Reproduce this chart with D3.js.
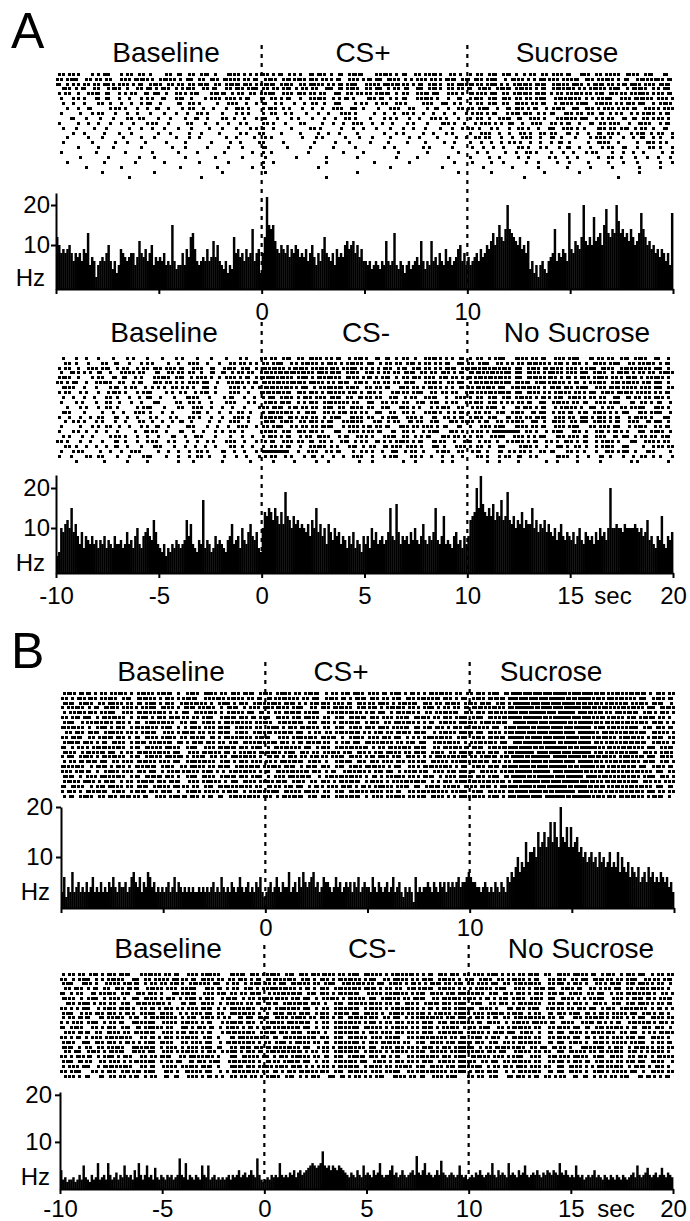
<!DOCTYPE html>
<html>
<head>
<meta charset="utf-8">
<script src="https://cdn.jsdelivr.net/npm/d3@7"></script>
<style>
  body { margin: 0; background: #fff; }
  text { font-family: "Liberation Sans", Arial, Helvetica, sans-serif; fill: #000; }
</style>
</head>
<body>
<script>
// ---- data ----
// PSTH firing rate (Hz), 0.1 s bins from -10 to +20 s (300 bins)
const hzA1 = [
  12,10,8,9,8,9,10,8,6,8, 7,8,6,9,8,13,5,7,6,2, 5,6,7,6,8,10,6,4,6,3,
  5,9,8,7,6,7,8,8,5,7, 11,8,7,9,6,8,10,5,7,6, 7,6,8,5,6,5,15,6,4,5,
  5,8,5,9,7,12,13,9,6,5, 6,7,6,9,6,7,11,7,10,6, 5,4,6,3,5,4,12,8,9,7,
  8,6,9,7,8,14,6,8,9,3, 8,12,22,15,14,15,11,9,8,10, 9,8,10,7,9,8,10,9,7,8,
  7,9,6,8,10,7,5,8,6,9, 12,8,7,6,8,5,9,7,8,7, 10,11,9,10,11,8,10,7,9,6,
  6,5,6,4,5,6,5,4,6,5, 11,6,5,6,13,5,4,6,5,3, 5,6,4,5,6,7,5,11,6,4,
  6,5,11,6,7,5,8,6,5,9, 6,7,5,6,7,9,10,6,8,5, 7,5,6,7,8,6,9,7,8,10,
  9,11,13,10,12,15,12,11,14,20, 14,13,12,11,10,12,9,10,8,11, 4,6,3,5,2,5,6,4,3,6,
  7,8,14,6,8,7,9,8,6,18, 9,8,11,10,9,12,20,11,10,12, 10,17,11,12,13,10,15,19,13,12,
  14,13,20,16,13,14,12,13,11,14, 12,10,11,13,18,14,12,10,11,9, 10,8,9,7,9,8,6,8,5,18
];
const hzA2 = [
  3,4,10,9,11,12,10,15,9,11, 8,6,9,5,8,7,6,8,6,7, 5,7,6,8,5,7,6,5,8,6,
  6,7,5,6,9,6,7,5,8,10, 6,5,8,9,10,8,7,12,9,6, 5,4,6,3,5,4,6,5,7,6,
  5,6,7,12,8,11,6,5,4,7, 6,17,5,7,6,4,5,8,6,7, 6,5,4,7,8,11,6,7,8,5,
  10,7,6,9,11,8,7,9,5,4, 10,14,13,15,14,12,15,13,11,14, 11,19,13,12,10,13,11,12,10,11,
  10,9,11,8,12,10,15,9,11,8, 10,6,11,9,7,10,8,9,6,8, 7,5,8,6,9,5,7,6,4,8,
  6,8,5,10,7,9,6,7,8,6, 7,9,15,8,7,16,9,6,8,7, 8,6,9,7,10,7,6,8,11,7,
  6,8,7,9,15,7,6,8,13,6, 7,6,5,8,9,6,7,5,8,6, 8,12,13,14,20,15,23,16,14,13,
  15,13,16,12,14,13,17,12,13,19, 12,11,13,10,12,11,14,10,12,11, 11,15,10,12,9,11,10,12,9,11,
  9,8,10,7,9,11,8,7,9,8, 7,9,6,8,10,7,6,9,8,7, 8,6,9,7,10,8,9,7,10,20,
  10,10,11,10,10,9,11,10,10,10, 10,11,10,9,10,8,9,12,7,8, 6,5,8,7,13,6,5,8,7,9
];
const hzB1 = [
  3,6,2,4,3,7,3,4,5,3, 4,3,5,3,4,6,3,4,3,5, 3,4,3,5,4,6,4,3,5,4,
  4,5,3,4,6,7,5,4,6,3, 5,4,7,6,4,5,3,4,3,4, 3,4,5,3,4,6,3,5,4,3,
  4,3,4,3,4,3,3,4,3,4, 3,4,3,4,5,3,4,3,6,4, 3,4,3,5,4,3,4,6,4,3,
  4,5,3,4,3,5,4,6,3,2, 3,4,5,3,4,6,4,3,5,4, 4,7,3,4,5,3,6,4,7,5,
  4,5,6,7,4,5,3,4,6,5, 5,4,3,4,6,4,5,3,4,5, 4,5,3,5,4,6,3,4,5,4,
  4,3,6,4,3,5,4,3,4,5, 3,4,6,3,4,5,3,2,4,3, 4,3,1,6,3,4,3,4,4,5,
  4,3,5,4,3,5,4,5,3,5, 4,5,4,5,6,4,5,5,6,7, 6,5,5,4,4,3,4,5,4,3,
  4,3,5,4,3,5,4,3,6,5, 7,6,8,10,7,9,8,13,9,11, 11,12,10,15,12,13,15,12,14,17,
  13,17,14,12,20,14,13,16,12,16, 12,13,14,11,12,10,11,9,10,11, 9,10,8,11,9,10,8,9,11,8,
  9,8,11,7,10,8,7,9,6,8, 7,6,8,5,6,7,5,8,6,7, 5,6,5,7,6,5,6,4,5,3
];
const hzB2 = [
  4,2,2.5,1.5,2,2,2.5,1.5,2,3, 2,5,2.5,2,1.5,3,2,2.5,5.5,2, 2.5,3,2,5.5,3,2,2.5,3.5,2,3,
  2.5,5,3,2.5,3,2,4,2.5,5.5,3, 2,3,5,2.5,3,2,4.5,2.5,2,3, 2.5,2,3,2.5,3,2,2.5,3,6.5,3,
  2.5,5.5,2,3,2.5,2,3,2.5,2,5, 3,2.5,5,2,2.5,3,2,2.5,2,2.5, 2,2.5,3,2,3,2.5,3,4,2.5,3,
  3.5,2.5,3,4,3,2.5,6.5,3,2,1.5, 2,2.5,2,3,2.5,3,2.5,5.5,3,2.5, 3,2.5,3.5,3,4,2.5,3.5,4,3,3.5,
  4,4.5,5,5.5,5,4.5,5,5.5,8,5, 4.5,5,4,5,4.5,4,5,4.5,4,3.5, 3,2.5,3.5,3,2.5,4,3,2.5,5,3,
  3.5,3,2.5,4,3,3.5,5.5,3,2.5,3, 3,4,5,3,3.5,2.5,3,4,3,2.5, 3,3.5,4,3,7,3.5,3,4,5.5,3,
  3.5,3,2.5,3,4,3,6,3.5,3,2.5, 3,3.5,3,2.5,3,5,3,2.5,3,2, 2.5,3,2.5,3.5,3,4,3,2.5,3,3.5,
  3,5.5,3,2.5,4,3,3.5,3,2.5,5.5, 3,3.5,3,2.5,4,3,3.5,5,3,2.5, 3,3.5,3,4,3,2.5,3.5,3,4,3.5,
  3,4,3.5,3,5.5,3.5,3,4,3,2.5, 3,2.5,5,3,2.5,3,2,2.5,3,2.5, 3,4,2.5,3,2.5,2,3,2.5,2,3,
  2.5,2,3,2.5,2,3,2.5,2,2.5,3, 3.5,2.5,5,3,2.5,3,3.5,4.5,3,2.5, 3,3.5,2.5,3,4.5,3,2.5,3.5,3,2.5
];

// Raster trials: hex bit strings, one bit per 0.1 s bin; segments = baseline | cue | outcome
const rasterA1 = [
  "52a04 9c128 a4051 8a2c4 1a925 | a4c52 19a46 2d815 a4c29 5a148 | 4a2c5 9128a 54c1a 29546 a2c18",
  "a5c29 4a153 6a2d4 9c51a 6a94c | 5a2d6 9a54c 2a59c 6a495 2a6c5 | 9a5c2 6a49d 52ac6 95a4c 2d5a6",
  "c4a52 9d2a4 c5a29 4a6c5 2d9a5 | 6c5a2 9d4a6 5c2a9 d6a4c 5a29d | 6a5c9 2da6c 5a9d2 6ca59 d2a6c",
  "1a4c2 85a21 4c9a2 5a14c 29a5c | a52c9 4a1c6 5a29c 4a61c 5a294 | c5a2d 96a4c 5ad29 6a5c4 da29c",
  "4a215 8c24a 19c42 a5816 c4a29 | 5c2a6 94a1c 52a96 c4a15 9c2a4 | 6a9c5 2da6c 94ad5 2c6a9 5d2a6",
  "20a41 8c210 4a182 c4095 2a4c1 | 8a4c2 15a24 c81a6 24c15 a4218 | 5a2c6 94a5c 2d6a4 95c2a 6d4a9",
  "10840 a2108 4c201 8a402 15084 | c2410 8a21c 04a12 85402 a1c48 | 4a2c5 1a94c 26a5c 2d4a6 9c25a",
  "04218 02a41 08c20 4a108 21a40 | 9a241 0842a 1c408 2a140 8c214 | a5c21 9a4c2 5a1c6 92a54 c2a95",
  "20104 a0821 04082 10a40 81240 | 8a120 41082 a4021 08a42 10841 | 2a4c1 59a24 c1a52 8c4a1 25a4c",
  "01820 41028 a0410 21840 a2104 | c1024 08210 a4081 24108 2a410 | 4a215 8c2a4 15a9c 24a18 c52a4",
  "40210 82104 0a820 14082 10480 | a4102 80421 0a842 10240 81a42 | 12a48 c2150 a4c21 8a542 1a84c",
  "10402 08010 42081 04020 81024 | 84020 14802 08410 20841 02084 | a4120 8a421 c2a48 1a52c 4a218",
  "00840 10208 00410 08201 00482 | 80402 01084 02001 04802 10480 | 42a10 85214 a0c42 18a41 2c4a1",
  "04010 20080 41002 08400 21008 | 48001 02400 81040 20108 04021 | 14a08 42a10 c4081 2a410 8c241",
  "10004 00820 10040 20010 08402 | 80200 04010 20080 40201 00840 | 42108 a4210 8c402 1a840 21a48",
  "00200 81000 40008 20040 10200 | c0080 10020 04001 08002 40080 | 21084 0a412 08c21 04a18 20a41",
  "20001 00040 02001 00800 40010 | 88000 20001 00400 02000 80010 | 08402 10a40 82104 a0210 84021",
  "00100 04000 81000 20004 00200 | 40008 00100 02000 04010 00200 | 40210 08401 20840 10a20 41082",
  "04000 10002 00080 00400 10000 | 84000 00100 00020 00100 00040 | 20104 00820 10402 00810 20041",
  "00020 00100 00000 80002 00010 | 80000 01000 00000 20000 01000 | 01000 40020 00801 00200 10040",
  "00000 20000 01000 00000 80000 | 40000 00000 02000 00000 00010 | 00100 00004 00020 00000 10000",
  "00000 00010 00000 00200 00000 | 00000 00100 00000 00000 00000 | 00000 01000 00000 00040 00000"
];
const rasterA2 = [
  "10420 81024 08102 40810 20481 | 4a2c5 1a94c 25a18 c4a21 5a48c | 4a25c 1a94c 2a5c1 94a2c 5a184",
  "0a410 28c10 4a021 0a841 0a524 | a5c29 6a4d2 5a9c4 a52c9 4a61c | a5c29 4a6d5 2c9a4 6a5c2 95a4c",
  "4a215 2c4a1 29a54 c2a18 5a2c4 | d6a5b 4ad69 5ca49 a2c59 4a6c5 | b5ad6 9c5a6 d4a95 c6a2d 5a9c4",
  "21a48 c2154 a0c29 4a218 c4a51 | 6adb5 a9d6c 5a2c9 4a6c5 29a4c | 6d5ab 9c6a5 d4a9c 5a26c 94a5d",
  "5a204 a18c2 415a2 c4a91 2a4c5 | bd6a5 c9ad4 6a592 c4a69 52ca4 | d6b5a 9c6d5 a4c9a 5d2a6 c95a4",
  "a4c21 5a284 c1a52 4a9c2 15a4c | d5ab6 9d4a6 c5a29 4a6c1 5a29c | 5ad6b 9ac5d 6a4c9 5a2d6 a59c4",
  "1a841 02c4a 1248a 521c4 0a912 | 6d5a9 c4ad6 5a294 c1a52 6a48c | ad69c 5b6a4 d9a5c 2a6d5 4a9c5",
  "4a120 85a41 2c048 a12c4 0a841 | b5ac6 9a4d5 2c9a4 16a5c 294a1 | 6ab5d 9c6a5 2d4a9 c5a6d 2a94c",
  "10842 0a410 8c204 1a820 4c108 | 9c5a4 d2a6c 51a94 2c4a1 5842a | 4a2c5 96a4d 2c5a9 4a1c6 529a4",
  "20481 0a208 41c02 8a410 2a048 | 5a6c4 9a2d5 4a1c2 94a16 2c4a1 | 5a2c9 4a61c 5a94c 2a5c1 8a4c2",
  "04120 8a401 2c081 42a10 84102 | a6c59 4a2c5 1a942 c1a48 25a14 | 2a5c4 19a4c 25a91 c4a29 5c1a4",
  "1a040 21082 a4108 02c41 08a20 | 9d5a4 6c2a5 94a1c 28a41 5a24c | 94a2c 5a19c 4a62c 5a49c 1a5c2",
  "42108 a0c21 04812 0a410 82a41 | 5ac69 4a25c 1a942 5c2a4 18a4c | 5a2c1 94a6c 2a51c 9a4c2 6a41c",
  "08a41 20840 a2108 c4021 0a840 | 6c5a2 9a4c1 5a82c 4a194 2c1a5 | a4c29 5a1c4 6a29c 5a4c2 a19c4",
  "20104 8a210 48c20 1a042 10a84 | a5c29 4a6c1 2a594 c1a52 a4c18 | 42a5c 1a94c 2a5c1 4a9c2 5a14c",
  "40a21 08402 1a840 c2104 8a201 | 5a2c6 9a41c 2a54c 18a42 5c1a4 | 2a4ff f8a42 5c1a4 2c9a4 1c5a2",
  "12084 02a41 0840c 21a04 08210 | 9a4c2 51a84 c2a41 58a24 c1a52 | 4a15c 2a49c 1a54c 2a19c 4a52c",
  "a4108 20c41 0a824 10848 2a104 | 4c2a5 18a42 c4a19 25a4c 1a842 | c4a21 5a4c2 91a4c 25a41 c2a94",
  "0a421 08c20 41a04 21084 0a210 | 8a4c2 15a48 2c4a1 952a4 1c82a | 4a21c 05a42 1c8a4 25a1c 042a5",
  "20a80 4210a 80421 08a40 c2104 | fff84 2a14c 08a42 1c4a2 05a14 | 2c418 a5214 c0a48 21a5c 41a02",
  "41028 a0410 2c041 08a20 41082 | 4a120 8c421 0a841 2c0a4 21084 | 0a412 8c240 1a842 0c410 8a241",
  "00400 10020 08001 02000 80020 | 04010 02080 01040 00820 01080 | 00410 08002 10040 08001 20004"
];
const rasterB1 = [
  "5a6c9 4ad25 a96c4 5a3d2 9a6c5 | a5d29 6c4a5 9d2a6 5c9a4 d6a52 | 9a5c6 fbdef 7ebdf 6d5ab 6c9a5",
  "a4d69 5a2c6 d49a5 6c2ad 5a94c | 6ad52 9c5a6 4d9a5 2c6ad 59a4c | 5a6d9 ef7bd fdb7e b5d6a 9c5a6",
  "6c5a2 9d4a6 5c9a2 d6a45 c9a2d | 5a6c9 2da54 c6a9d 25ac6 94da5 | a6c59 7fbde f7edb 6ad59 5a6c2",
  "95a4c 6d2a9 5c6a4 d95a2 6c4a9 | d6a5c 29a6d 45ac9 6d2a5 c94a6 | 6d5a9 bfedf 7bfde d6ab5 a9c6d",
  "4ad69 5c2a6 d5a49 c6ad2 5a9c6 | 4a6d9 5c2ad 6a59c 4d6a2 95ac6 | 9a6d5 ef7fb dfe7b 5a9d6 c5a69",
  "a59c4 d6a25 c9a6d 4a5c2 d9a65 | c6a59 d4a2c 6d9a5 4ac6d 29a5c | 5c6ad fbfed 7fbde ad6a5 96ca4",
  "5c2ad 69a4c 5d6a2 9c5a4 d6a95 | a2d6c 59a4d 6c5a2 9d6a4 c5a9d | a5d6c 7efbd fed7f 6b5ad 5a6c9",
  "d6a45 c9a2d 6a5c4 9d2a6 c5a94 | 5c9a6 d4a2c 5a69d 2ac65 9a4d6 | 6a9c5 dfb7e fbdfe 5d6ab c59a6",
  "29a6c 5d4a9 6c2a5 d94a6 c5a2d | 6ad9c 4a52d 6ca59 4da6c 25a9d | 9c6a5 bef7d fbe7f a6d5b 5c6a9",
  "a6c52 d9a4c 6a5d2 9ac64 d5a96 | c2a5d 69ac4 5d2a6 9c4a5 d6a2c | 5a6d9 fdbef 7dfbe b6a5d a96c5",
  "5d9a4 c6a2d 95ac6 4d9a5 2c6ad | 59a4c d6a25 9c6ad 4a59c 2d6a4 | ad69c 7bfef dbf7e 6ad5b 6c5a9",
  "c4a96 d5a2c 6a9d4 5c2a6 d9a5c | 4d6a9 c5a2d 6ac94 d5a6c 29ad6 | 6c5ad efdb7 fedbf d5ab6 a9c56",
  "6a2d5 9c4a6 d5a9c 2a6d4 c95a6 | da5c6 94ad2 c6a59 d4a6c 5a29d | 9a6c5 bfe7d f7bfe 5ad6b c6a5a",
  "9c5a4 d6a2c 5a9d6 4ac52 9d6a4 | 6c9a5 2d4ac 6a59d 2c6a4 9d5ac | a5d96 fdbfe 7efdb b6a5d 59c6a",
  "4a6d9 c52a6 d4a9c 5d6a2 c9a54 | a9d6c 5a42d c69a5 4d2ac 6a95d | 6d9a5 7fbed fbe7f 6ab5d a6c59",
  "d5a26 c9a4d 6c5a2 9d4a6 c5ad9 | 5a6c4 d9a2c 5a6d4 9c2a6 d5a4c | 5a6cd efb7d fedbf ad6b5 9c5a6",
  "a96c4 5d2a6 9c4ad 6a5c9 2d6a4 | c6ad5 9a4c2 d6a59 c4ad6 2a59c | c6a95 bfdfe 7bfed 5b6ad 6a9c5",
  "6c4a9 d5a2c 6d9a4 5c6a2 d9a5c | 4a9d6 c25ad 6a4c9 5d2a6 c4a9d | 9a5c6 fed7f bdfe7 d6ab5 a5c69",
  "5a9d2 6c4a5 d9a6c 2a5d4 9c6a5 | d6c5a 29a4d 6c5a9 2ad6c 49a5d | 6ad59 7bfde f7fbd ab6d5 c6a95",
  "c6a25 9d4a6 c5a9d 4a2c6 d5a94 | 6a59c 4d2a6 c9a5d 4ac62 d95a6 | a6c9d efd7b fedfb 6d5ab 5a9c6",
  "9a4d6 c5a2d 9a6c4 5d2a9 6c4ad | 5c6a9 d4a2c 6d5a9 4c2ad 6a95c | 5c6a9 bf7ed bfe7d 5ad6b 69ca5",
  "4c5a2 9a6d4 c2a5d 9a4c6 2d5a9 | a4d6c 59a2d 6c4a9 5d2ac 6a49d | 6a5c9 dfbe7 fdbfe b5a6d a96c4"
];
const rasterB2 = [
  "4a52c 9a6c1 5a94c 2a5d4 1ac69 | 5a2c6 9ad4a 5c6a9 2d5a4 c69a5 | 2a5c9 4a6c5 1a9d4 c5a26 9c4a5",
  "a25c4 96a1c 52a9d 4c6a5 29a4c | 6d5a2 c9a4d 6a5c2 9d4a6 c5a92 | c5a29 6a4c1 5a29c 6d4a5 c2a96",
  "5c1a4 2a96c 4a52d 16a9c 4a25c | a9c6d 4a5c2 d6a9c 5a4d2 6ca59 | 4a9c5 2d6a1 5c9a4 2a6c5 9d4a2",
  "29a4c 51a6c 2d4a9 5c1a6 4a2c9 | 5d6a4 c9a2d 5a6c9 4a2d6 c5a94 | 96a5c 2a4d9 c5a61 4a9c5 2d6a4",
  "c4a19 5a2c6 9a41d 6c2a5 94a6c | 2ad6c 59a4d 6c2a9 5d4ac 6a59d | 5a2c6 9a4d1 6c5a2 9c4a6 d5a29",
  "6a25c 4a91c 6a4d2 5c9a1 6c4a5 | d6a59 c4ad2 6a9c5 d4a6c 29ad5 | a4c96 5a2d1 c6a49 5c2a4 d9a56",
  "1a5c9 4a2c6 d5a41 9c6a2 5a94c | 6c5ad 9a42c 6d5a9 4c6a2 d9a5c | 5c29a 4d6a1 5c9a4 6a2c5 9d4a6",
  "a49c2 5a6d1 4c9a5 2a6c4 9d5a2 | a5d69 c4a2d 6c5a9 2d6a4 c9a5d | c6a41 9a5c2 d4a69 c5a2d 6a4c9",
  "5c2a6 9a4d1 5c6a2 4a9c5 1d6a4 | 4d9a6 c5a2d 9c6a4 5d2ac 96a5d | 2a5d9 6c4a1 9a5c6 4d2a9 c5a64",
  "4a6c1 95a2c 4d6a9 2c5a4 a19c6 | c6a5d 29a4c 6d5a2 9c4ad 6a59c | 9a4c5 2d6a9 4c1a5 6d2a4 9c6a5",
  "92a5c 4a61d 5c2a9 6a4c1 5d9a2 | 5a9d6 c4a2d 6a5c9 4d2a6 c59ad | 4c6a2 5a9d4 c6a15 9a4c2 d5a69",
  "c5a14 9a2c6 5d4a1 c9a62 5a4c9 | 6ad59 c4a2d 5c6a9 2d4a6 c95a4 | a5c29 6d4a1 5a9c6 2d5a4 c69a2",
  "2a6c5 1a94d 6c2a5 9a4c1 6d5a2 | d9a6c 5a42d 6c9a5 4d2a6 c5ad9 | 6a4d9 c5a21 9c6a4 d5a29 c4a6d",
  "a4c95 2d6a1 4c9a5 6a2c4 19d5a | 4c6ad 59a2c 6d4a9 5c2ad 6a94c | 5c9a2 6d4a1 5a9c6 4d2a5 9c6a4",
  "5a1c6 9a4d2 5c6a1 4a9c2 6d5a4 | a5c9d 4a62d 5c9a6 d4a2c 6a59d | 9a2c5 4d6a1 9c5a4 6d2a9 5c4a6",
  "6c4a2 95a1d 6c4a9 2a5c6 14d9a | 6d5a9 c2a4d 6a9c5 4d2a6 c9a5d | c4a6d 5a29c 6a41d 5c9a2 6d4a5",
  "29c5a 4d61a 9c2a5 6a4d1 5c9a6 | 5ad6c 94a2d 6c5a9 2d4ac 6a95d | 5a69c 2d4a5 1c6a9 4d5a2 c96a4",
  "a4d62 5c9a1 4a6c2 9d5a4 1c6a9 | c9a5d 4a62c 5d9a6 4c2ad 69a5c | 6d4a9 5c2a1 6a9d4 5c6a2 9a4d5",
  "5c6a1 4a92d 5c4a6 19a5c 2d6a4 | 6a5d9 c4a2d 69c5a 4d2a6 c5a9d | a29c5 6d4a1 5c9a6 2d4a5 9c6a1",
  "4a9c2 6d5a1 4c2a9 5a6c4 1d9a5 | d5a6c 92a4d 6c5a9 4ad2c 6a59d | 5c4a6 9d2a5 1c6a4 9d5a2 6c9a4",
  "a5c14 9a2d6 5c1a4 6a9c2 4d5a9 | 4c9a6 d5a2c 6d4a9 5c2ad 6a95c | 9a6c2 4d5a1 9c6a4 5d2a9 c46a5",
  "2a4c1 8a52c 4a18c 2a4c9 14a52 | 5a2c4 9a1c6 4a52c 1a94c 2a5c1 | 4a2c1 9a4c5 2a18c 4a52c 19a4c"
];

const periodsRewarded = ["Baseline", "CS+", "Sucrose"];
const periodsUnrewarded = ["Baseline", "CS-", "No Sucrose"];
const xTicks = [-10, -5, 0, 5, 10, 15, 20];
const xTickLabelsTop = ["", "", "0", "", "10", "", ""];
const xTickLabelsBottom = ["-10", "-5", "0", "5", "10", "15", "20"];
const yTicks = [10, 20];
const eventTimes = [0, 10];
const binStart = -10, binWidth = 0.1;
const panelLetters = ["A", "B"];

// ---- layout ----
const W = 690, H = 1221;
const panels = [
  { hz: hzA1, raster: rasterA1, periods: periodsRewarded, tickLabels: xTickLabelsTop,
    xr: [56, 673], yd: [-1, 23], yr: [289, 193], rows: [74, 177],
    labelY: 62, labelX: [166, 363, 567], dashTop: 45, tickPad: 9, yPad: 1, hzX: 45, hzY: 278 },
  { hz: hzA2, raster: rasterA2, periods: periodsUnrewarded, tickLabels: xTickLabelsBottom,
    xr: [56, 673], yd: [-1.25, 23.25], yr: [573, 475], rows: [358, 461],
    labelY: 342, labelX: [164, 366, 577], dashTop: 322, tickPad: 8.5, yPad: 1, hzX: 45, hzY: 563, secX: 613 },
  { hz: hzB1, raster: rasterB1, periods: periodsRewarded, tickLabels: xTickLabelsTop,
    xr: [61, 674], yd: [-0.2, 20], yr: [908, 807], rows: [693, 796],
    labelY: 681, labelX: [171, 341, 551], dashTop: 662, tickPad: 5.5, yPad: 3, hzX: 50, hzY: 892 },
  { hz: hzB2, raster: rasterB2, periods: periodsUnrewarded, tickLabels: xTickLabelsBottom,
    xr: [60, 673], yd: [0, 20.6], yr: [1189, 1092], rows: [974, 1076],
    labelY: 958, labelX: [168, 372, 581], dashTop: 945, tickPad: 5.5, yPad: 3, hzX: 50, hzY: 1177, secX: 616 }
];
const letterPos = [{ x: 11, y: 48 }, { x: 11, y: 668 }];

const svg = d3.select("body").append("svg")
  .attr("width", W)
  .attr("height", H);

svg.append("rect").attr("width", W).attr("height", H).attr("fill", "#fff");

function parseRow(s) {
  const hex = s.split("|")
    .map(seg => seg.replace(/\s/g, "").padEnd(25, "0").slice(0, 25))
    .join("");
  const bins = [];
  for (let c = 0; c < hex.length; c++) {
    const v = parseInt(hex[c], 16);
    for (let k = 0; k < 4; k++) if (v & (8 >> k)) bins.push(c * 4 + k);
  }
  return bins;
}

panels.forEach(p => {
  const g = svg.append("g");
  const x = d3.scaleLinear().domain([-10, 20]).range(p.xr);
  const y = d3.scaleLinear().domain(p.yd).range(p.yr);
  const yBase = y(p.yd[0]);
  const bw = x(binStart + binWidth) - x(binStart);

  // event lines
  g.selectAll("line.event")
    .data(eventTimes)
    .join("line")
    .attr("class", "event")
    .attr("x1", d => x(d)).attr("x2", d => x(d))
    .attr("y1", p.dashTop).attr("y2", yBase)
    .attr("stroke", "#000")
    .attr("stroke-width", 2.2)
    .attr("stroke-dasharray", "4,5");

  // period labels
  g.selectAll("text.period")
    .data(p.periods)
    .join("text")
    .attr("class", "period")
    .attr("x", (d, i) => p.labelX[i])
    .attr("y", p.labelY)
    .attr("text-anchor", "middle")
    .attr("font-size", 28)
    .text(d => d);

  // raster
  const rowY = d3.scalePoint().domain(d3.range(p.raster.length)).range(p.rows);
  p.raster.forEach((row, r) => {
    g.append("g")
      .attr("shape-rendering", "crispEdges")
      .selectAll("rect")
      .data(parseRow(row))
      .join("rect")
      .attr("x", b => Math.round(x(binStart + b * binWidth)))
      .attr("y", Math.round(rowY(r) - 1.3))
      .attr("width", 2.6)
      .attr("height", 2.6)
      .attr("fill", "#000");
  });

  // histogram
  g.append("g")
    .selectAll("rect")
    .data(p.hz)
    .join("rect")
    .attr("x", (d, i) => x(binStart + i * binWidth))
    .attr("width", bw + 0.4)
    .attr("y", d => y(d))
    .attr("height", d => yBase - y(d))
    .attr("fill", "#000");

  // axes
  const xAxis = g.append("g")
    .attr("transform", `translate(0,${yBase})`)
    .call(d3.axisBottom(x)
      .tickValues(xTicks)
      .tickFormat((d, i) => p.tickLabels[i])
      .tickSize(5)
      .tickSizeOuter(0)
      .tickPadding(p.tickPad));

  const yAxis = g.append("g")
    .attr("transform", `translate(${p.xr[0]},0)`)
    .call(d3.axisLeft(y)
      .tickValues(yTicks)
      .tickSize(5)
      .tickSizeOuter(0)
      .tickPadding(p.yPad));

  [xAxis, yAxis].forEach(a => {
    a.attr("font-size", 24).attr("font-family", null);
    a.selectAll("path, line").attr("stroke", "#000").attr("stroke-width", 2);
    a.selectAll("text").attr("fill", "#000");
  });

  g.append("text")
    .attr("x", p.hzX)
    .attr("y", p.hzY)
    .attr("dy", "0.35em")
    .attr("text-anchor", "end")
    .attr("font-size", 24)
    .text("Hz");

  if (p.secX) {
    g.append("text")
      .attr("x", p.secX)
      .attr("y", yBase + 5 + p.tickPad)
      .attr("dy", "0.71em")
      .attr("text-anchor", "middle")
      .attr("font-size", 24)
      .text("sec");
  }
});

svg.selectAll("text.letter")
  .data(panelLetters)
  .join("text")
  .attr("class", "letter")
  .attr("x", (d, i) => letterPos[i].x)
  .attr("y", (d, i) => letterPos[i].y)
  .attr("font-size", 50)
  .text(d => d);
</script>
</body>
</html>
